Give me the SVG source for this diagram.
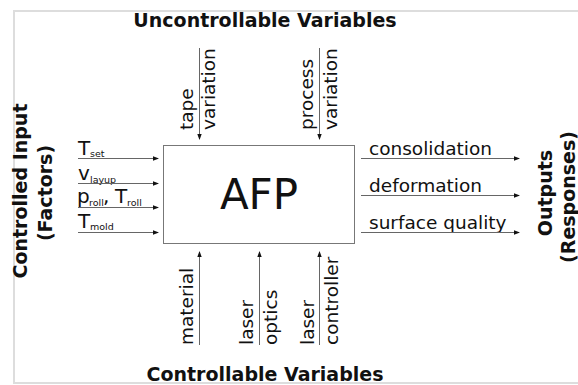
<svg xmlns="http://www.w3.org/2000/svg" width="578" height="385" viewBox="0 0 578 385">
  <style>
    text { font-family: "DejaVu Sans", "Liberation Sans", sans-serif; fill: #111; }
    .lbl { font-size: 18.5px; }
    .var { font-size: 20px; }
    .sub { font-size: 9.5px; }
    .head { font-size: 19px; font-weight: bold; }
    .arrow { stroke: #666; stroke-width: 1; fill: none; marker-end: url(#tip); }
  </style>
  <defs>
    <marker id="tip" viewBox="0 0 6 6" refX="5" refY="3" markerWidth="6" markerHeight="6" markerUnits="userSpaceOnUse" orient="auto">
      <path d="M0,0.8 L6,3 L0,5.2 Z" fill="#111"/>
    </marker>
  </defs>

  <rect width="578" height="385" fill="#fff"/>
  <!-- outer frame -->
  <path d="M14,384 L14,11 L580,11 M14,383 L580,383" stroke="#ddd" stroke-width="2" fill="none"/>

  <!-- process box -->
  <g id="afp">
    <rect x="163.5" y="145.5" width="191" height="98" fill="#fff" stroke="#777" stroke-width="1"/>
    <text x="259" y="209" text-anchor="middle" style="font-size:42px">AFP</text>
  </g>

  <!-- group headings -->
  <g id="uncontrollable">
    <text class="head" x="265" y="27" text-anchor="middle">Uncontrollable Variables</text>
  </g>
  <g id="controllable">
    <text class="head" x="265" y="381" text-anchor="middle">Controllable Variables</text>
  </g>
  <g id="inputs-heading">
    <text class="head" transform="translate(27,191) rotate(-90)" text-anchor="middle">Controlled Input</text>
    <text class="head" transform="translate(52,193) rotate(-90)" text-anchor="middle">(Factors)</text>
  </g>
  <g id="outputs-heading">
    <text class="head" transform="translate(552,193) rotate(-90)" text-anchor="middle">Outputs</text>
    <text class="head" transform="translate(575,197) rotate(-90)" text-anchor="middle">(Responses)</text>
  </g>

  <!-- factor labels -->
  <g id="t-set">
    <text class="var" x="78" y="155">T</text>
    <text class="sub" x="90" y="157">set</text>
  </g>
  <g id="v-layup">
    <text class="var" x="78" y="180">v</text>
    <text class="sub" x="90" y="183">layup</text>
  </g>
  <g id="p-roll">
    <text class="var" x="77" y="203">p</text>
    <text class="sub" x="89" y="206">roll</text>
    <text class="var" x="103" y="203">,</text>
    <text class="var" x="115" y="203">T</text>
    <text class="sub" x="127" y="206">roll</text>
  </g>
  <g id="t-mold">
    <text class="var" x="78" y="228">T</text>
    <text class="sub" x="90" y="230">mold</text>
  </g>

  <!-- response labels -->
  <g id="consolidation"><text class="lbl" x="369" y="155">consolidation</text></g>
  <g id="deformation"><text class="lbl" x="369" y="192">deformation</text></g>
  <g id="surface-quality"><text class="lbl" x="369" y="229">surface quality</text></g>

  <!-- noise labels -->
  <g id="tape-variation">
    <text class="lbl" transform="translate(193,130) rotate(-90)">tape</text>
    <text class="lbl" transform="translate(215,130) rotate(-90)">variation</text>
  </g>
  <g id="process-variation">
    <text class="lbl" transform="translate(313,130) rotate(-90)">process</text>
    <text class="lbl" transform="translate(337,130) rotate(-90)">variation</text>
  </g>

  <!-- controllable labels -->
  <g id="material">
    <text class="lbl" transform="translate(193,345) rotate(-90)">material</text>
  </g>
  <g id="laser-optics">
    <text class="lbl" transform="translate(253,345) rotate(-90)">laser</text>
    <text class="lbl" transform="translate(277,345) rotate(-90)">optics</text>
  </g>
  <g id="laser-controller">
    <text class="lbl" transform="translate(314,345) rotate(-90)">laser</text>
    <text class="lbl" transform="translate(338,345) rotate(-90)">controller</text>
  </g>

  <!-- connectors -->
  <g id="connectors">
    <line class="arrow" x1="78" y1="158.5" x2="158" y2="158.5"/>
    <line class="arrow" x1="78" y1="183.5" x2="158" y2="183.5"/>
    <line class="arrow" x1="78" y1="207.5" x2="158" y2="207.5"/>
    <line class="arrow" x1="78" y1="232.5" x2="158" y2="232.5"/>

    <line class="arrow" x1="361" y1="158.5" x2="519" y2="158.5"/>
    <line class="arrow" x1="361" y1="195.5" x2="519" y2="195.5"/>
    <line class="arrow" x1="361" y1="232.5" x2="519" y2="232.5"/>

    <line class="arrow" x1="199.5" y1="48" x2="199.5" y2="139"/>
    <line class="arrow" x1="319.5" y1="48" x2="319.5" y2="139"/>

    <line class="arrow" x1="199.5" y1="345" x2="199.5" y2="252"/>
    <line class="arrow" x1="259.5" y1="345" x2="259.5" y2="252"/>
    <line class="arrow" x1="319.5" y1="345" x2="319.5" y2="252"/>
  </g>
</svg>
